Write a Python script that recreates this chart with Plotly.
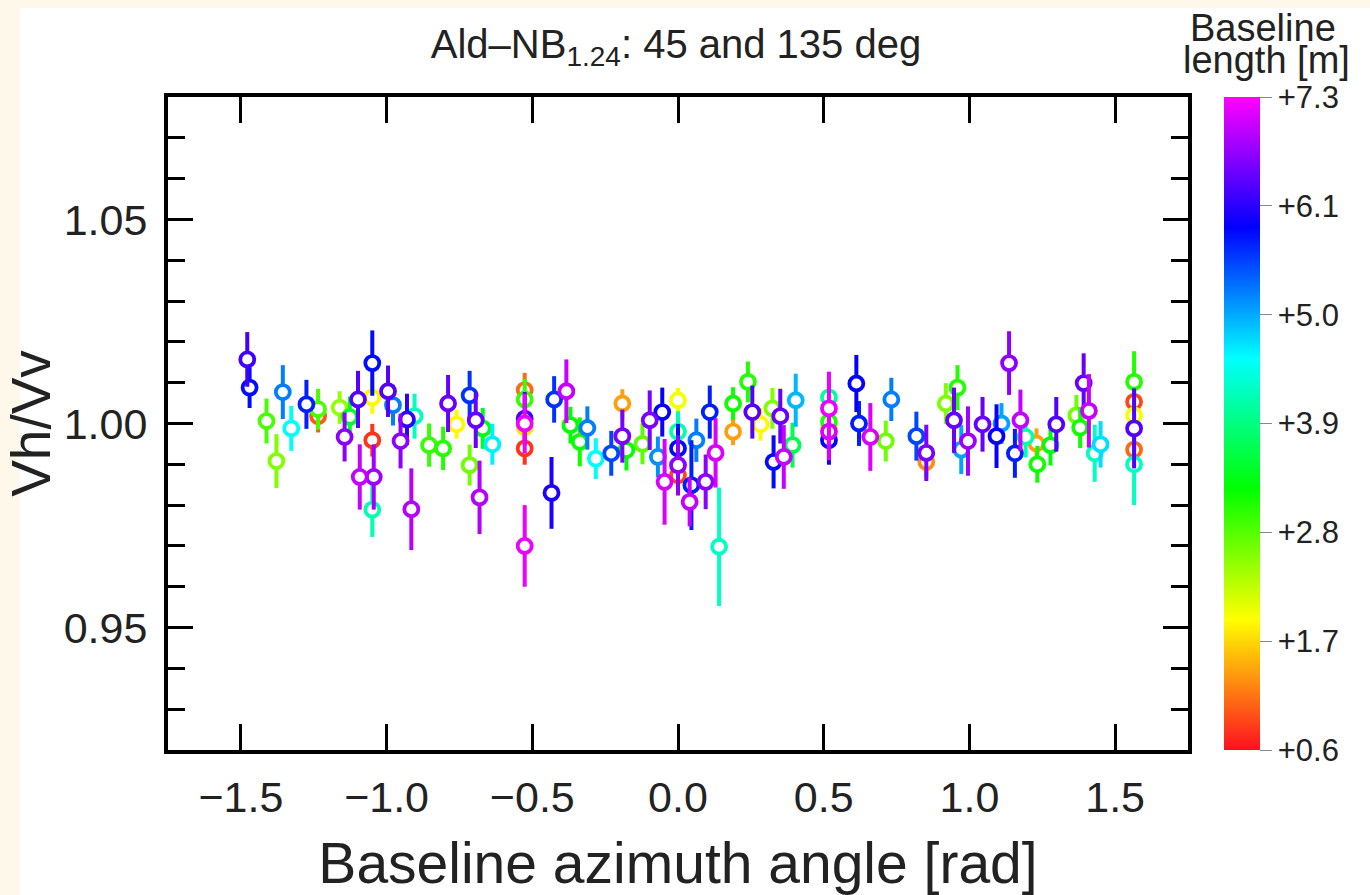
import plotly.graph_objects as go
from plotly.colors import sample_colorscale

# ---- data ----
angle = [-1.478, -1.470, -1.412, -1.378, -1.356, -1.327, -1.275, -1.235, -1.235, -1.161,
         -1.126, -1.144, -1.098, -1.092, -1.044, -1.049, -1.049, -1.049, -1.049, -0.995,
         -0.978, -0.952, -0.930, -0.915, -0.904, -0.854, -0.806, -0.789, -0.760, -0.715,
         -0.715, -0.694, -0.681, -0.670, -0.637, -0.526, -0.526, -0.526, -0.526, -0.526,
         -0.526, -0.526, -0.434, -0.425, -0.383, -0.369, -0.337, -0.311, -0.282, -0.229,
         -0.191, -0.191, -0.177, -0.122, -0.097, -0.069, -0.054, -0.046, 0.000, 0.000,
         0.000, 0.000, 0.000, 0.046, 0.040, 0.063, 0.095, 0.109, 0.129, 0.141,
         0.189, 0.189, 0.240, 0.255, 0.283, 0.324, 0.328, 0.351, 0.363, 0.393,
         0.404, 0.518, 0.518, 0.518, 0.518, 0.518, 0.518, 0.612, 0.621, 0.660,
         0.713, 0.732, 0.818, 0.852, 0.852, 0.919, 0.947, 0.959, 0.972, 0.995,
         1.045, 1.093, 1.110, 1.136, 1.156, 1.175, 1.193, 1.230, 1.233, 1.278,
         1.298, 1.367, 1.380, 1.392, 1.410, 1.430, 1.450, 1.565, 1.565, 1.565,
         1.565, 1.565, 1.565]
ratio = [1.0157, 1.0088, 1.0006, 0.9908, 1.0077, 0.9988, 1.0047, 1.0018, 1.0035, 1.0039,
         1.0016, 0.9967, 1.0059, 0.9869, 0.9869, 1.0148, 1.0064, 0.9959, 0.9789, 1.0079,
         1.0045, 0.9957, 1.0010, 0.9790, 1.0018, 0.9947, 0.9939, 1.0049, 0.9998, 1.0069,
         0.9898, 1.0008, 0.9819, 0.9988, 0.9949, 1.0082, 1.0059, 1.0012, 0.9990, 1.0000,
         0.9939, 0.9700, 0.9830, 1.0059, 1.0079, 0.9996, 0.9955, 0.9989, 0.9914, 0.9927,
         1.0049, 0.9969, 0.9935, 0.9950, 1.0008, 0.9918, 1.0028, 0.9857, 1.0057, 0.9980,
         0.9939, 0.9873, 0.9898, 0.9849, 0.9808, 0.9959, 0.9857, 1.0028, 0.9928, 0.9698,
         1.0049, 0.9980, 1.0102, 1.0028, 0.9998, 1.0037, 0.9906, 1.0018, 0.9918, 0.9947,
         1.0057, 1.0064, 0.9990, 1.0004, 0.9959, 0.9980, 1.0037, 1.0098, 1.0000, 0.9967,
         0.9957, 1.0059, 0.9969, 0.9906, 0.9928, 1.0049, 1.0008, 1.0088, 0.9936, 0.9957,
         0.9998, 0.9969, 1.0000, 1.0148, 0.9927, 1.0008, 0.9967, 0.9951, 0.9900, 0.9947,
         0.9998, 1.0020, 0.9990, 1.0099, 1.0031, 0.9927, 0.9949, 1.0102, 1.0053, 1.0020,
         0.9988, 0.9936, 0.9900]
error = [0.0067, 0.0050, 0.0055, 0.0066, 0.0066, 0.0055, 0.0060, 0.0040, 0.0050, 0.0040,
         0.0050, 0.0060, 0.0070, 0.0080, 0.0080, 0.0080, 0.0040, 0.0040, 0.0067, 0.0063,
         0.0050, 0.0067, 0.0063, 0.0100, 0.0055, 0.0053, 0.0053, 0.0070, 0.0035, 0.0060,
         0.0050, 0.0068, 0.0090, 0.0050, 0.0050, 0.0042, 0.0050, 0.0065, 0.0040, 0.0073,
         0.0040, 0.0100, 0.0088, 0.0057, 0.0078, 0.0045, 0.0060, 0.0053, 0.0050, 0.0055,
         0.0035, 0.0065, 0.0050, 0.0050, 0.0073, 0.0050, 0.0060, 0.0105, 0.0030, 0.0050,
         0.0060, 0.0050, 0.0073, 0.0110, 0.0060, 0.0053, 0.0067, 0.0065, 0.0085, 0.0145,
         0.0040, 0.0033, 0.0050, 0.0065, 0.0040, 0.0050, 0.0065, 0.0067, 0.0078, 0.0055,
         0.0065, 0.0050, 0.0040, 0.0050, 0.0060, 0.0070, 0.0090, 0.0070, 0.0055, 0.0083,
         0.0050, 0.0053, 0.0060, 0.0040, 0.0069, 0.0050, 0.0080, 0.0055, 0.0060, 0.0085,
         0.0067, 0.0078, 0.0050, 0.0078, 0.0060, 0.0075, 0.0050, 0.0037, 0.0045, 0.0050,
         0.0067, 0.0050, 0.0050, 0.0073, 0.0090, 0.0070, 0.0057, 0.0075, 0.0040, 0.0040,
         0.0098, 0.0040, 0.0100]
length = [6.3, 5.9, 2.9, 2.6, 5.3, 4.6, 5.8, 1.0, 2.9, 2.5,
          3.5, 6.7, 6.4, 7.0, 6.8, 5.9, 1.9, 0.8, 4.2, 6.4,
          5.3, 6.7, 6.2, 6.9, 4.3, 3.0, 3.1, 6.5, 1.9, 5.7,
          2.7, 6.5, 6.9, 3.4, 4.7, 1.1, 3.0, 6.3, 1.8, 7.2,
          0.8, 7.2, 6.1, 5.7, 7.0, 3.3, 3.2, 5.3, 4.6, 5.6,
          1.4, 6.6, 3.3, 2.8, 6.6, 5.2, 6.0, 7.1, 2.0, 4.2,
          5.9, 0.9, 6.7, 5.8, 7.0, 5.3, 6.7, 5.8, 7.1, 4.3,
          3.2, 1.4, 3.1, 6.4, 1.9, 2.6, 5.9, 6.5, 7.0, 3.7,
          5.0, 4.1, 2.0, 3.1, 6.0, 7.1, 7.2, 6.0, 5.8, 7.1,
          2.7, 5.3, 5.6, 1.3, 6.6, 2.6, 6.5, 3.1, 5.1, 6.8,
          6.5, 6.0, 5.1, 6.7, 5.8, 7.0, 4.2, 1.4, 3.2, 3.3,
          6.4, 2.7, 3.2, 6.5, 7.0, 4.3, 4.8, 3.1, 0.9, 2.0,
          6.4, 1.1, 4.3]

x_ticks = [-1.5, -1.0, -0.5, 0.0, 0.5, 1.0, 1.5]
y_ticks = [0.95, 1.00, 1.05]
cb_min, cb_max = 0.6, 7.3
cb_ticktext = ["+0.6", "+1.7", "+2.8", "+3.9", "+5.0", "+6.1", "+7.3"]

colorscale = [[0.0, "#ff1020"], [0.2, "#ffff00"], [0.4, "#00ff00"],
              [0.6, "#00ffff"], [0.8, "#0000ff"], [1.0, "#ff00ff"]]

FONT = "Liberation Sans, Arial, Helvetica, sans-serif"
CREAM = "#fdf8ea"

fig = go.Figure()

order = sorted(range(len(angle)), key=lambda i: length[i])
for i in order:
    c = sample_colorscale(colorscale, [(length[i] - cb_min) / (cb_max - cb_min)])[0]
    fig.add_trace(go.Scatter(
        x=[angle[i]], y=[ratio[i]], mode="markers", showlegend=False,
        error_y=dict(type="data", array=[error[i]], color=c, thickness=4, width=0),
        marker=dict(symbol="circle", size=14, color="white", line=dict(color=c, width=3.8)),
        hoverinfo="skip"))

# colour bar carrier (point lies outside the plotted range)
cb_step = (cb_max - cb_min) / 6
fig.add_trace(go.Scatter(
    x=[10], y=[10], mode="markers", showlegend=False, hoverinfo="skip",
    marker=dict(color=[cb_min], cmin=cb_min, cmax=cb_max, colorscale=colorscale,
                showscale=True,
                colorbar=dict(x=1.0353, xanchor="left", y=0.5, yanchor="middle",
                              len=1.0, lenmode="fraction", thickness=36,
                              xpad=0, ypad=0, outlinewidth=0,
                              ticks="outside", ticklen=12, tickcolor="#888", tickwidth=1,
                              tickvals=[cb_min + k * cb_step for k in range(7)],
                              ticktext=cb_ticktext,
                              tickfont=dict(family=FONT, size=31, color="#222")))))

W, H = 1370, 895
L, R, T, B = 168, 182, 97, 145
pw, ph = W - L - R, H - T - B


def px2paper_x(px):
    return (px - L) / pw


def px2paper_y(py):
    return (H - B - py) / ph


fig.add_shape(type="rect", xref="paper", yref="paper", layer="below",
              x0=px2paper_x(20), x1=px2paper_x(1372), y0=px2paper_y(8), y1=px2paper_y(897),
              fillcolor="white", line=dict(width=0))

fig.add_annotation(text="Baseline", xref="paper", yref="paper",
                   x=px2paper_x(1263), y=px2paper_y(28), xanchor="center", yanchor="middle",
                   showarrow=False, font=dict(family=FONT, size=38, color="#222"))
fig.add_annotation(text="length [m]", xref="paper", yref="paper",
                   x=px2paper_x(1266), y=px2paper_y(60), xanchor="center", yanchor="middle",
                   showarrow=False, font=dict(family=FONT, size=38, color="#222"))

fig.update_layout(
    width=W, height=H,
    margin=dict(l=L, r=R, t=T, b=B, autoexpand=False),
    paper_bgcolor=CREAM, plot_bgcolor="white",
    title=dict(text="Ald\u2013NB<sub>1.24</sub>: 45 and 135 deg", x=px2paper_x(676), xref="paper",
               xanchor="center", y=1 - 44 / H, yref="container", yanchor="middle",
               font=dict(family=FONT, size=40, color="#222")),
    xaxis=dict(range=[-1.75, 1.75], tickvals=x_ticks, tickformat=".1f",
               ticks="inside", ticklen=26, tickwidth=3, tickcolor="black",
               showline=True, linewidth=4, linecolor="black", mirror="ticks",
               showgrid=False, zeroline=False, ticklabelstandoff=6,
               tickfont=dict(family=FONT, size=43, color="#222"),
               title=dict(text="Baseline azimuth angle [rad]", standoff=30,
                          font=dict(family=FONT, size=57, color="#222"))),
    yaxis=dict(range=[0.92, 1.08], tickvals=y_ticks, tickformat=".2f",
               ticks="inside", ticklen=25, tickwidth=3, tickcolor="black",
               minor=dict(dtick=0.01, tick0=0.92, ticks="inside", ticklen=17,
                          tickwidth=3, tickcolor="black"),
               showline=True, linewidth=4, linecolor="black", mirror="ticks",
               showgrid=False, zeroline=False, ticklabelstandoff=8,
               tickfont=dict(family=FONT, size=43, color="#222"),
               title=dict(text="Vh/Vv", standoff=0,
                          font=dict(family=FONT, size=55, color="#222"))),
)

fig.write_html("out.html", config={"displayModeBar": False},
               post_script="document.body.style.margin='0';"
                           "document.body.style.background='" + CREAM + "';")
